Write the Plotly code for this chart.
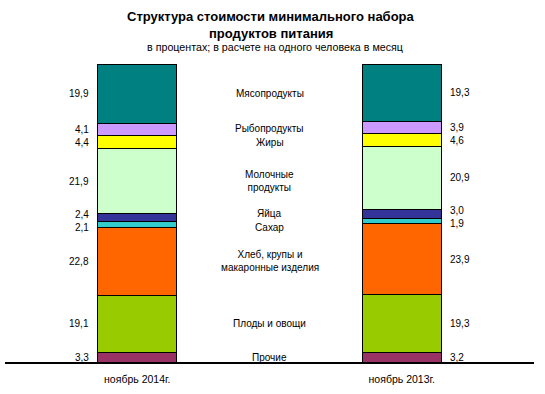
import plotly.graph_objects as go

periods = ["ноябрь 2014г.", "ноябрь 2013г."]
categories = ["Прочие", "Плоды и овощи", "Хлеб, крупы и<br>макаронные изделия", "Сахар",
              "Яйца", "Молочные<br>продукты", "Жиры", "Рыбопродукты", "Мясопродукты"]
values_2014 = [3.3, 19.1, 22.8, 2.1, 2.4, 21.9, 4.4, 4.1, 19.9]
values_2013 = [3.2, 19.3, 23.9, 1.9, 3.0, 20.9, 4.6, 3.9, 19.3]
colors = ["#993366", "#99CC00", "#FF6600", "#33CCCC", "#333399",
          "#CCFFCC", "#FFFF00", "#CC99FF", "#008080"]

FONT = "Liberation Sans, Arial, sans-serif"
PLOT_TOP, PLOT_BOTTOM = 64, 362
PX_PER_UNIT = (PLOT_BOTTOM - PLOT_TOP) / 100.0

fig = go.Figure()
for i, cat in enumerate(categories):
    fig.add_trace(go.Bar(
        x=[0, 1], y=[values_2014[i], values_2013[i]],
        name=cat, marker=dict(color=colors[i], line=dict(color="black", width=1)),
        width=0.3, hoverinfo="skip",
    ))


def centers(vals):
    out, acc = [], 0
    for v in vals:
        out.append(acc + v / 2)
        acc += v
    return out


def spread(ys, min_gap_px=13):
    # push overlapping labels apart (returns pixel shifts)
    px = [y * PX_PER_UNIT for y in ys]
    shifts = [0.0] * len(px)
    for _ in range(20):
        for k in range(len(px) - 1):
            a = px[k] + shifts[k]
            b = px[k + 1] + shifts[k + 1]
            if b - a < min_gap_px:
                d = (min_gap_px - (b - a)) / 2
                shifts[k] -= d
                shifts[k + 1] += d
    return shifts


c14 = centers(values_2014)
c13 = centers(values_2013)
s14 = spread(c14)
s13 = spread(c13)

lab_font = dict(family=FONT, size=10, color="black")
for i in range(len(categories)):
    fig.add_annotation(x=0, y=c14[i], xref="x", yref="y", showarrow=False,
                       text=f"{values_2014[i]:.1f}".replace(".", ","),
                       xanchor="right", yanchor="middle", xshift=-46, yshift=s14[i],
                       font=lab_font)
    fig.add_annotation(x=1, y=c13[i], xref="x", yref="y", showarrow=False,
                       text=f"{values_2013[i]:.1f}".replace(".", ","),
                       xanchor="left", yanchor="middle", xshift=46, yshift=s13[i],
                       font=lab_font)

s_mid = spread(c14, 14)
for i, cat in enumerate(categories):
    fig.add_annotation(x=0.5, y=c14[i], xref="x", yref="y", showarrow=False,
                       text=cat, xanchor="center", yanchor="middle", yshift=s_mid[i],
                       font=lab_font, align="center")

# titles
fig.add_annotation(x=0.5, y=1, xref="paper", yref="paper", showarrow=False,
                   text="<b>Структура стоимости минимального набора</b>",
                   yanchor="middle", yshift=48, xshift=1,
                   font=dict(family=FONT, size=13, color="black"))
fig.add_annotation(x=0.5, y=1, xref="paper", yref="paper", showarrow=False,
                   text="<b>продуктов питания</b>",
                   yanchor="middle", yshift=31, xshift=1,
                   font=dict(family=FONT, size=13, color="black"))
fig.add_annotation(x=0.5, y=1, xref="paper", yref="paper", showarrow=False,
                   text="в процентах; в расчете на одного человека в месяц",
                   yanchor="middle", yshift=17, xshift=5,
                   font=dict(family=FONT, size=10.7, color="black"))

fig.update_layout(
    barmode="stack",
    width=545, height=394,
    margin=dict(l=5, r=11, t=PLOT_TOP, b=394 - PLOT_BOTTOM),
    paper_bgcolor="white", plot_bgcolor="white",
    showlegend=False,
    xaxis=dict(range=[-0.5, 1.5], tickvals=[0, 1], ticktext=periods,
               showline=True, linecolor="black", linewidth=1.5, ticks="",
               ticklabelstandoff=7,
               showgrid=False, zeroline=False, fixedrange=True,
               tickfont=dict(family=FONT, size=10.5, color="black")),
    yaxis=dict(range=[0, 100], visible=False, showgrid=False, fixedrange=True),
)

fig.write_html("out.html", config={"displayModeBar": False},
               post_script="document.body.style.margin='0';")
